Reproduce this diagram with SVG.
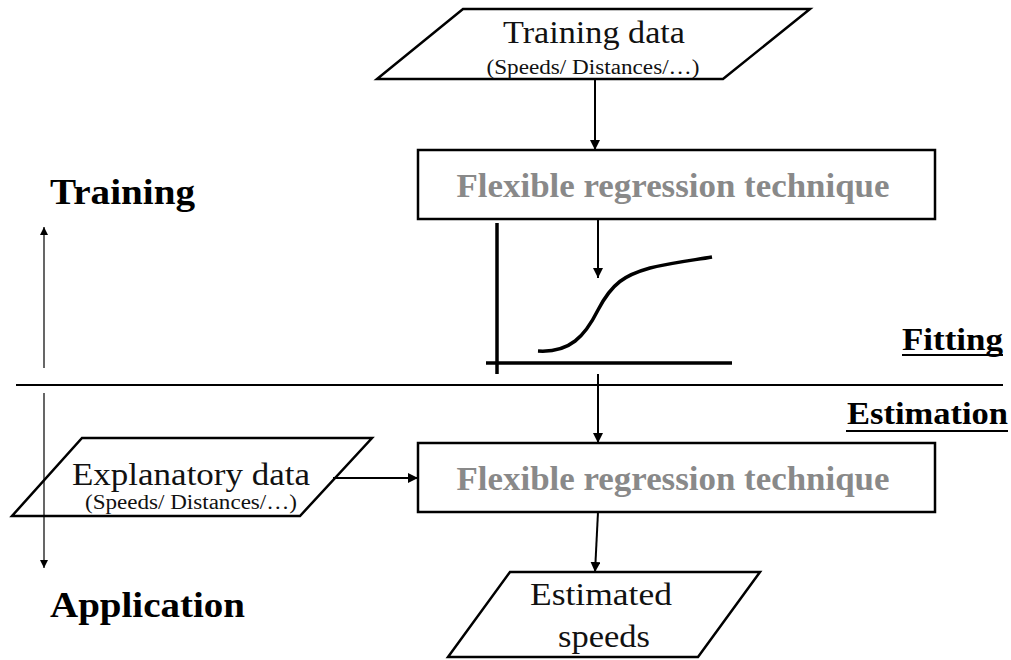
<svg xmlns="http://www.w3.org/2000/svg" width="1011" height="660" viewBox="0 0 1011 660">
  <defs>
    <marker id="head" viewBox="0 0 10 10" refX="10" refY="5" markerWidth="10" markerHeight="10" markerUnits="userSpaceOnUse" orient="auto">
      <path d="M0,0 L10,5 L0,10 z" fill="#000"/>
    </marker>
    <marker id="headSmall" viewBox="0 0 10 10" refX="10" refY="5" markerWidth="9" markerHeight="8" markerUnits="userSpaceOnUse" orient="auto">
      <path d="M0,0 L10,5 L0,10 z" fill="#000"/>
    </marker>
    <style>
      .shape { fill: #fff; stroke: #000; stroke-width: 2.5; }
      .conn { fill: none; stroke: #000; stroke-width: 2; marker-end: url(#head); }
      .thin { fill: none; stroke: #000; stroke-width: 1.2; marker-end: url(#headSmall); }
      .axis { fill: none; stroke: #000; stroke-width: 3.5; }
      .rule { stroke: #000; stroke-width: 2; }
      text { fill: #111; }
      .title { font-size: 32px; text-anchor: middle; }
      .sub { font-size: 20px; text-anchor: middle; }
      .tech { font-size: 34px; font-weight: bold; fill: #898989; text-anchor: middle; }
      .label { font-size: 36px; font-weight: bold; fill: #000; }
      .phase { font-size: 32px; font-weight: bold; fill: #000; }
    </style>
  </defs>

  <g font-family="Liberation Serif, DejaVu Serif, serif">
  <!-- phase labels and separators -->
  <g id="phases">
    <text class="label" x="50" y="204" textLength="145" lengthAdjust="spacingAndGlyphs">Training</text>
    <text class="label" x="50" y="617" textLength="195" lengthAdjust="spacingAndGlyphs">Application</text>
    <text class="phase" x="902" y="350" textLength="101" lengthAdjust="spacingAndGlyphs">Fitting</text>
    <line class="rule" x1="902" y1="355" x2="1003" y2="355"/>
    <text class="phase" x="847" y="424" textLength="161" lengthAdjust="spacingAndGlyphs">Estimation</text>
    <line class="rule" x1="846" y1="431" x2="1008" y2="431"/>
    <line class="rule" x1="16" y1="385" x2="1003" y2="385"/>
  </g>

  <g id="training-data">
    <polygon class="shape" points="463,9 810,9 723,79 377,79"/>
    <text class="title" x="594" y="43" textLength="182" lengthAdjust="spacingAndGlyphs">Training data</text>
    <text class="sub" x="593" y="74" textLength="213" lengthAdjust="spacingAndGlyphs">(Speeds/ Distances/…)</text>
  </g>

  <g id="regression-fit">
    <rect class="shape" x="418" y="150" width="517" height="69"/>
    <text class="tech" x="673" y="197" textLength="433" lengthAdjust="spacingAndGlyphs">Flexible regression technique</text>
  </g>

  <!-- fitted response curve on its axes -->
  <g id="fitted-curve">
    <line class="axis" x1="497" y1="223" x2="497" y2="374"/>
    <line class="axis" x1="486" y1="363" x2="732" y2="363"/>
    <path class="axis" d="M538,351 C570,353 585,336 598,310 C612,283 625,275 650,268 C675,262 695,260 712,257"/>
  </g>

  <g id="explanatory-data">
    <polygon class="shape" points="82,438 372,438 300,516 12,516"/>
    <text class="title" x="191" y="485" textLength="238" lengthAdjust="spacingAndGlyphs">Explanatory data</text>
    <text class="sub" x="191" y="509" textLength="212" lengthAdjust="spacingAndGlyphs">(Speeds/ Distances/…)</text>
  </g>

  <g id="regression-estimate">
    <rect class="shape" x="418" y="443" width="517" height="69"/>
    <text class="tech" x="673" y="490" textLength="433" lengthAdjust="spacingAndGlyphs">Flexible regression technique</text>
  </g>

  <g id="estimated-speeds">
    <polygon class="shape" points="510,572 760,572 698,657 448,657"/>
    <text class="title" x="601" y="605" textLength="142" lengthAdjust="spacingAndGlyphs">Estimated</text>
    <text class="title" x="604" y="647" textLength="92" lengthAdjust="spacingAndGlyphs">speeds</text>
  </g>
  </g>

  <g id="connectors">
    <line class="conn" x1="595" y1="79" x2="595" y2="150"/>
    <line class="conn" x1="598" y1="219" x2="598" y2="278"/>
    <line class="conn" x1="598" y1="374" x2="598" y2="443"/>
    <line class="conn" x1="333" y1="478" x2="418" y2="478"/>
    <line class="conn" x1="598" y1="512" x2="595" y2="572"/>
    <line class="thin" x1="44" y1="368" x2="44" y2="227"/>
    <line class="thin" x1="44" y1="393" x2="44" y2="568"/>
  </g>
</svg>
